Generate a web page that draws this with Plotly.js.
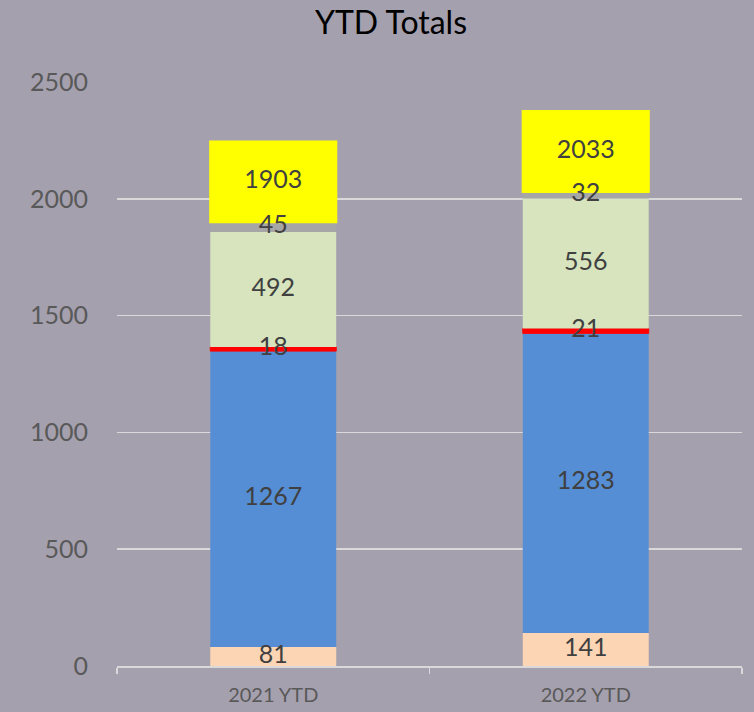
<!DOCTYPE html>
<html><head><meta charset="utf-8">
<script src="https://cdn.plot.ly/plotly-3.0.1.min.js"></script>
<style>html,body{margin:0;padding:0;background:#A5A0AE}</style>
</head><body><div id="chart" style="width:754px;height:712px"></div>
<script>
// ---- data ----
const categories = ['2021 YTD', '2022 YTD'];
const peachVals = [81, 141];
const blueVals = [1267, 1283];
const redVals = [18, 21];
const greenVals = [492, 556];
const grayVals = [45, 32];
const yTickVals = [0, 500, 1000, 1500, 2000, 2500];

// ---- build ----
const series = [
  {vals: peachVals, color: '#FCD5B5', line: 0},
  {vals: blueVals, color: '#558ED5', line: 0},
  {vals: redVals, color: '#FF0000', line: 1},
  {vals: greenVals, color: '#D7E4BD', line: 0},
  {vals: grayVals, color: '#A6A6A6', line: 0}
];
const traces = [];
const cum = categories.map(() => 0);
const labX = [], labY = [], labT = [];
series.forEach(s => {
  const base = cum.slice();
  traces.push({
    type: 'bar', x: categories, y: s.vals, base: base, width: 0.403,
    marker: {color: s.color, line: {width: s.line, color: s.color}},
    hoverinfo: 'skip', showlegend: false
  });
  s.vals.forEach((v, i) => {
    labX.push(categories[i]); labY.push(base[i] + v / 2); labT.push(String(v));
    cum[i] += v;
  });
});
const totals = cum.slice();
const boxH = 355, boxShift = 8;
const boxBase = totals.map(t => t - boxShift);
traces.push({
  type: 'bar', x: categories, y: totals.map(() => boxH), base: boxBase, width: 0.41,
  marker: {color: '#FFFF00'}, hoverinfo: 'skip', showlegend: false
});
totals.forEach((t, i) => {
  labX.push(categories[i]); labY.push(boxBase[i] + boxH / 2); labT.push(String(t));
});
traces.push({
  type: 'scatter', mode: 'text', x: labX, y: labY, text: labT,
  textposition: 'middle center', cliponaxis: false,
  textfont: {family: 'Lato', size: 25, color: '#404040'},
  hoverinfo: 'skip', showlegend: false
});

const layout = {
  width: 754, height: 712,
  paper_bgcolor: '#A5A0AE', plot_bgcolor: '#A5A0AE',
  margin: {l: 117, r: 12, t: 82, b: 46},
  barmode: 'overlay',
  font: {family: 'Lato'},
  title: {text: 'YTD Totals', font: {family: 'Lato', size: 32, color: '#000000'},
          x: 391 / 754, xref: 'container', xanchor: 'center', y: 1 - 23 / 712, yref: 'container', yanchor: 'middle'},
  xaxis: {
    type: 'category', range: [-0.5, 1.5], showgrid: false,
    showline: true, linecolor: '#D9D9D9', linewidth: 1.5,
    ticks: 'outside', tickson: 'boundaries', ticklen: 6, tickcolor: '#D9D9D9', tickwidth: 1.5,
    ticklabelstandoff: 10,
    tickfont: {family: 'Lato', size: 20, color: '#595959'}, fixedrange: true
  },
  yaxis: {
    range: [0, 2500], tickvals: yTickVals, ticktext: yTickVals.map(String),
    showgrid: true, gridcolor: '#D9D9D9', gridwidth: 1.5, zeroline: false, showline: false,
    ticks: '', ticklabelstandoff: 28,
    tickfont: {family: 'Lato', size: 25, color: '#595959'}, fixedrange: true
  }
};
Plotly.newPlot('chart', traces, layout, {staticPlot: true, displayModeBar: false});
</script>
</body></html>
